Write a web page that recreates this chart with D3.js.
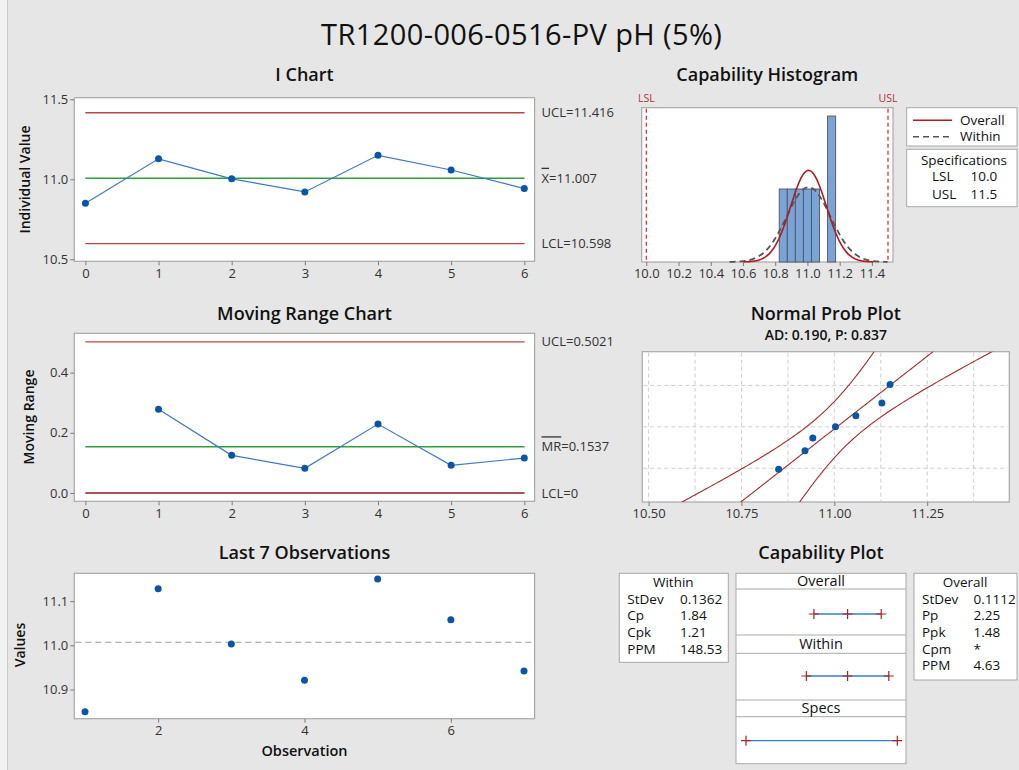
<!DOCTYPE html>
<html>
<head>
<meta charset="utf-8">
<script src="https://cdn.jsdelivr.net/npm/d3@7"></script>
<style>
  body { margin: 0; background: #e6e6e6; }
  svg { display: block; }
  text { font-family: "Open Sans", "Noto Sans", sans-serif; }
</style>
</head>
<body>
<svg id="chart" width="1019" height="770"></svg>
<script>
// ---- Data -------------------------------------------------------------
const observations = [10.850, 11.128, 11.003, 10.921, 11.150, 11.058, 10.942];
const sampleIndex = [0, 1, 2, 3, 4, 5, 6];
const observationNumber = [1, 2, 3, 4, 5, 6, 7];

const iChartLimits = [11.416, 11.007, 10.598];   // UCL, centre, LCL
const mrChartLimits = [0.5021, 0.1537, 0];        // UCL, centre, LCL
const specLimits = [10.0, 11.5];                  // LSL, USL
const processMean = 11.007;
const sdWithin = 0.1362;
const sdOverall = 0.1112;

const withinLabels = ["StDev", "Cp", "Cpk", "PPM"];
const withinValues = ["0.1362", "1.84", "1.21", "148.53"];
const overallLabels = ["StDev", "Pp", "Ppk", "Cpm", "PPM"];
const overallValues = ["0.1112", "2.25", "1.48", "*", "4.63"];
const adText = "AD: 0.190, P: 0.837";

const histBinEdges = [10.825, 10.875, 10.925, 10.975, 11.025, 11.075, 11.125, 11.175];
const iTicksY = [10.5, 11.0, 11.5];
const mrTicksY = [0.0, 0.2, 0.4];
const lastTicksX = [2, 4, 6];
const lastTicksY = [10.9, 11.0, 11.1];
const histTicks = [10.0, 10.2, 10.4, 10.6, 10.8, 11.0, 11.2, 11.4];
const nppTicks = [10.50, 10.75, 11.00, 11.25];
const nppGridX = [10.5, 10.625, 10.75, 10.875, 11.0, 11.125, 11.25, 11.375];
const nppGridP = [0.10, 0.50, 0.90];

// ---- Styles -----------------------------------------------------------
const C = {
  frame: "#a8a8a8", tick: "#7a7a7a", tickText: "#333",
  point: "#0a55a6", line: "#3d78c2", limit: "#b24848", center: "#2e9e3e",
  lcl0: "#8c1c1c", bar: "#7aa4d8", barStroke: "#4f5560", overall: "#b01c1c",
  within: "#555", spec: "#d22", fit: "#a52a2a"
};
const TICK_FS = 13;

const svg = d3.select("#chart");

// Left margin strip
svg.append("rect").attr("x", 0).attr("y", 0).attr("width", 7).attr("height", 770).attr("fill", "#f1f1f1");
svg.append("line").attr("x1", 7.5).attr("x2", 7.5).attr("y1", 0).attr("y2", 770).attr("stroke", "#c9c9c9");

svg.append("text").attr("x", 521.7).attr("y", 45).attr("text-anchor", "middle")
  .attr("font-size", 29).attr("letter-spacing", 0.4).attr("fill", "#111").text("TR1200-006-0516-PV pH (5%)");

function frame(b) {
  svg.append("rect").attr("x", b.x0).attr("y", b.y0)
    .attr("width", b.x1 - b.x0).attr("height", b.y1 - b.y0)
    .attr("fill", "#fff").attr("stroke", C.frame).attr("stroke-width", 1.2);
}
function title(txt, x, y, size = 18) {
  svg.append("text").attr("x", x).attr("y", y).attr("text-anchor", "middle")
    .attr("font-size", size).attr("font-weight", 600).attr("fill", "#111").text(txt);
}
function styleAxis(g) {
  g.select(".domain").remove();
  g.selectAll(".tick line").attr("stroke", C.tick);
  g.selectAll(".tick text").attr("fill", C.tickText).attr("font-size", TICK_FS)
    .attr("font-family", '"Open Sans", sans-serif');
}
function yTitle(txt, x, y) {
  svg.append("text").attr("transform", `translate(${x},${y}) rotate(-90)`)
    .attr("text-anchor", "middle").attr("font-size", 14).attr("font-weight", 600)
    .attr("fill", "#111").text(txt);
}
function hline(b, y, v, color, dash) {
  svg.append("line").attr("x1", b.x0 + 11).attr("x2", b.x1 - 10)
    .attr("y1", y(v)).attr("y2", y(v)).attr("stroke", color).attr("stroke-width", 1.4)
    .attr("stroke-dasharray", dash || null);
}
function limitLabel(x, y, parts) {
  const t = svg.append("text").attr("x", x).attr("y", y).attr("dy", "0.35em")
    .attr("font-size", 13).attr("fill", "#333");
  parts.forEach(p => {
    t.append("tspan").attr("text-decoration", p.over ? "overline" : null).text(p.t);
  });
}

// ---- I chart ----------------------------------------------------------
const bI = { x0: 74.3, x1: 534.6, y0: 97.7, y1: 261.3 };
const xI = d3.scaleLinear().domain([0, 6]).range([85.4, 524.3]);
const yI = d3.scaleLinear().domain([10.4875, 11.51]).range([bI.y1, bI.y0]);
title("I Chart", 304.5, 81);
frame(bI);
svg.append("g").attr("transform", `translate(${bI.x0},0)`)
  .call(d3.axisLeft(yI).tickValues(iTicksY).tickSize(4).tickPadding(2).tickFormat(d3.format(".1f"))).call(styleAxis);
svg.append("g").attr("transform", `translate(0,${bI.y1})`)
  .call(d3.axisBottom(xI).tickValues(sampleIndex).tickSize(4).tickPadding(3).tickFormat(d3.format("d"))).call(styleAxis);
yTitle("Individual Value", 30, 179.5);
hline(bI, yI, iChartLimits[0], C.limit);
hline(bI, yI, iChartLimits[2], C.limit);
hline(bI, yI, iChartLimits[1], C.center);
limitLabel(541.5, yI(iChartLimits[0]), [{ t: "UCL=11.416" }]);
limitLabel(541.5, yI(iChartLimits[1]), [{ t: "X", over: true }, { t: "=11.007" }]);
limitLabel(541.5, yI(iChartLimits[2]), [{ t: "LCL=10.598" }]);
svg.append("path").datum(observations)
  .attr("d", d3.line().x((d, i) => xI(sampleIndex[i])).y(d => yI(d)))
  .attr("fill", "none").attr("stroke", C.line).attr("stroke-width", 1.2);
svg.append("g").selectAll("circle").data(observations).join("circle")
  .attr("cx", (d, i) => xI(sampleIndex[i])).attr("cy", d => yI(d)).attr("r", 3.5).attr("fill", C.point);

// ---- Moving range chart -----------------------------------------------
const movingRanges = observations.slice(1).map((v, i) => Math.abs(v - observations[i]));
const bM = { x0: 74.3, x1: 534.6, y0: 333.3, y1: 501.3 };
const xM = xI.copy();
const yM = d3.scaleLinear().domain([-0.0276, 0.5306]).range([bM.y1, bM.y0]);
title("Moving Range Chart", 304.5, 320);
frame(bM);
svg.append("g").attr("transform", `translate(${bM.x0},0)`)
  .call(d3.axisLeft(yM).tickValues(mrTicksY).tickSize(4).tickPadding(2).tickFormat(d3.format(".1f"))).call(styleAxis);
svg.append("g").attr("transform", `translate(0,${bM.y1})`)
  .call(d3.axisBottom(xM).tickValues(sampleIndex).tickSize(4).tickPadding(3).tickFormat(d3.format("d"))).call(styleAxis);
yTitle("Moving Range", 34, 417);
hline(bM, yM, mrChartLimits[0], C.limit);
hline(bM, yM, mrChartLimits[2], C.lcl0);
hline(bM, yM, mrChartLimits[1], C.center);
limitLabel(541.5, yM(mrChartLimits[0]), [{ t: "UCL=0.5021" }]);
limitLabel(541.5, yM(mrChartLimits[1]), [{ t: "MR", over: true }, { t: "=0.1537" }]);
limitLabel(541.5, yM(mrChartLimits[2]), [{ t: "LCL=0" }]);
svg.append("path").datum(movingRanges)
  .attr("d", d3.line().x((d, i) => xM(sampleIndex[i + 1])).y(d => yM(d)))
  .attr("fill", "none").attr("stroke", C.line).attr("stroke-width", 1.2);
svg.append("g").selectAll("circle").data(movingRanges).join("circle")
  .attr("cx", (d, i) => xM(sampleIndex[i + 1])).attr("cy", d => yM(d)).attr("r", 3.5).attr("fill", C.point);

// ---- Last 7 observations ------------------------------------------------
const bL = { x0: 74.3, x1: 534.6, y0: 573.3, y1: 718.7 };
const xL = d3.scaleLinear().domain([1, 7]).range([85.0, 524.0]);
const yL = d3.scaleLinear().domain([10.834, 11.163]).range([bL.y1, bL.y0]);
title("Last 7 Observations", 304.5, 559);
frame(bL);
svg.append("g").attr("transform", `translate(${bL.x0},0)`)
  .call(d3.axisLeft(yL).tickValues(lastTicksY).tickSize(4).tickPadding(2).tickFormat(d3.format(".1f"))).call(styleAxis);
svg.append("g").attr("transform", `translate(0,${bL.y1})`)
  .call(d3.axisBottom(xL).tickValues(lastTicksX).tickSize(4).tickPadding(3).tickFormat(d3.format("d"))).call(styleAxis);
yTitle("Values", 25, 645);
svg.append("text").attr("x", 304.5).attr("y", 756).attr("text-anchor", "middle")
  .attr("font-size", 14.5).attr("font-weight", 600).attr("fill", "#111").text("Observation");
svg.append("line").attr("x1", bL.x0 + 1).attr("x2", bL.x1 - 1)
  .attr("y1", yL(processMean)).attr("y2", yL(processMean))
  .attr("stroke", "#9a9a9a").attr("stroke-width", 1.1).attr("stroke-dasharray", "6,4");
svg.append("g").selectAll("circle").data(observations).join("circle")
  .attr("cx", (d, i) => xL(observationNumber[i])).attr("cy", d => yL(d)).attr("r", 3.5).attr("fill", C.point);

// ---- Capability histogram ---------------------------------------------
const bH = { x0: 641.7, x1: 893, y0: 107.7, y1: 262 };
const xH = d3.scaleLinear().domain([10.0, 11.5]).range([646.3, 888]);
const yH = d3.scaleLinear().domain([0, 6.04]).range([bH.y1, bH.y0]);
title("Capability Histogram", 767.3, 81);
frame(bH);
svg.append("g").attr("transform", `translate(0,${bH.y1})`)
  .call(d3.axisBottom(xH).tickValues(histTicks).tickSize(4).tickPadding(3).tickFormat(d3.format(".1f"))).call(styleAxis);

const n = observations.length;
const bins = histBinEdges.slice(0, -1).map((lo, i) => {
  const hi = histBinEdges[i + 1];
  return { lo, hi, count: observations.filter(v => v >= lo && v < hi).length };
}).filter(b => b.count > 0);
svg.append("g").selectAll("rect").data(bins).join("rect")
  .attr("x", d => xH(d.lo)).attr("width", d => xH(d.hi) - xH(d.lo))
  .attr("y", d => yH(d.count / (n * (d.hi - d.lo))))
  .attr("height", d => yH(0) - yH(d.count / (n * (d.hi - d.lo))))
  .attr("fill", C.bar).attr("stroke", C.barStroke).attr("stroke-width", 0.9);

const normPdf = (x, m, s) => Math.exp(-0.5 * ((x - m) / s) ** 2) / (s * Math.sqrt(2 * Math.PI));
function curve(sd, span) {
  return d3.range(-span, span + 1e-9, 0.05).map(z => [processMean + z * sd, normPdf(processMean + z * sd, processMean, sd)]);
}
const hLine = d3.line().x(d => xH(d[0])).y(d => yH(d[1])).curve(d3.curveBasis);
svg.append("path").datum(curve(sdWithin, 3.6)).attr("d", hLine)
  .attr("fill", "none").attr("stroke", C.within).attr("stroke-width", 1.8).attr("stroke-dasharray", "6,4");
svg.append("path").datum(curve(sdOverall, 3.6)).attr("d", hLine)
  .attr("fill", "none").attr("stroke", C.overall).attr("stroke-width", 1.6);

specLimits.forEach((s, i) => {
  svg.append("line").attr("x1", xH(s)).attr("x2", xH(s)).attr("y1", bH.y0 + 1).attr("y2", bH.y1)
    .attr("stroke", C.spec).attr("stroke-width", 1.2).attr("stroke-dasharray", "4,3");
  svg.append("text").attr("x", xH(s)).attr("y", 102).attr("text-anchor", "middle")
    .attr("font-size", 10.5).attr("fill", "#a33").text(i === 0 ? "LSL" : "USL");
});

// legend and specification boxes
const legendBox = { x0: 906.7, x1: 1017, y0: 107.7, y1: 146 };
svg.append("rect").attr("x", legendBox.x0).attr("y", legendBox.y0)
  .attr("width", legendBox.x1 - legendBox.x0).attr("height", legendBox.y1 - legendBox.y0)
  .attr("fill", "#fff").attr("stroke", C.frame);
[["Overall", C.overall, null], ["Within", C.within, "6,4"]].forEach((d, i) => {
  const y = 120.3 + i * 16.4;
  svg.append("line").attr("x1", 913).attr("x2", 952).attr("y1", y).attr("y2", y)
    .attr("stroke", d[1]).attr("stroke-width", 1.6).attr("stroke-dasharray", d[2]);
  svg.append("text").attr("x", 960).attr("y", y).attr("dy", "0.35em").attr("font-size", 13.5)
    .attr("fill", "#111").text(d[0]);
});
const specBox = { x0: 906.7, x1: 1017, y0: 149.3, y1: 206.7 };
svg.append("rect").attr("x", specBox.x0).attr("y", specBox.y0)
  .attr("width", specBox.x1 - specBox.x0).attr("height", specBox.y1 - specBox.y0)
  .attr("fill", "#fff").attr("stroke", C.frame);
svg.append("text").attr("x", 964).attr("y", 160).attr("dy", "0.35em").attr("text-anchor", "middle")
  .attr("font-size", 13.5).attr("fill", "#111").text("Specifications");
["LSL", "USL"].forEach((lab, i) => {
  const y = 176.7 + i * 17.3;
  svg.append("text").attr("x", 932).attr("y", y).attr("dy", "0.35em").attr("font-size", 13.5)
    .attr("fill", "#111").text(lab);
  svg.append("text").attr("x", 970.5).attr("y", y).attr("dy", "0.35em").attr("font-size", 13.5)
    .attr("fill", "#111").text(d3.format(".1f")(specLimits[i]));
});

// ---- Normal probability plot ------------------------------------------
function qnorm(p) {
  const a = [-3.969683028665376e+01, 2.209460984245205e+02, -2.759285104469687e+02, 1.383577518672690e+02, -3.066479806614716e+01, 2.506628277459239e+00];
  const b = [-5.447609879822406e+01, 1.615858368580409e+02, -1.556989798598866e+02, 6.680131188771972e+01, -1.328068155288572e+01];
  const c = [-7.784894002430293e-03, -3.223964580411365e-01, -2.400758277161838e+00, -2.549732539343734e+00, 4.374664141464968e+00, 2.938163982698783e+00];
  const d = [7.784695709041462e-03, 3.224671290700398e-01, 2.445134137142996e+00, 3.754408661907416e+00];
  const pl = 0.02425;
  let q, r;
  if (p < pl) {
    q = Math.sqrt(-2 * Math.log(p));
    return (((((c[0] * q + c[1]) * q + c[2]) * q + c[3]) * q + c[4]) * q + c[5]) / ((((d[0] * q + d[1]) * q + d[2]) * q + d[3]) * q + 1);
  }
  if (p <= 1 - pl) {
    q = p - 0.5; r = q * q;
    return (((((a[0] * r + a[1]) * r + a[2]) * r + a[3]) * r + a[4]) * r + a[5]) * q / (((((b[0] * r + b[1]) * r + b[2]) * r + b[3]) * r + b[4]) * r + 1);
  }
  q = Math.sqrt(-2 * Math.log(1 - p));
  return -(((((c[0] * q + c[1]) * q + c[2]) * q + c[3]) * q + c[4]) * q + c[5]) / ((((d[0] * q + d[1]) * q + d[2]) * q + d[3]) * q + 1);
}
const bN = { x0: 642.3, x1: 1009.3, y0: 351.7, y1: 502 };
const xN = d3.scaleLinear().domain([10.483, 11.471]).range([bN.x0, bN.x1]);
const yN = d3.scaleLinear().domain([qnorm(0.01), qnorm(0.99)]).range([bN.y1, bN.y0]);
title("Normal Prob Plot", 825.8, 320);
svg.append("text").attr("x", 825.8).attr("y", 339.5).attr("text-anchor", "middle")
  .attr("font-size", 14).attr("font-weight", 600).attr("fill", "#111").text(adText);
frame(bN);
svg.append("defs").append("clipPath").attr("id", "nppClip").append("rect")
  .attr("x", bN.x0).attr("y", bN.y0).attr("width", bN.x1 - bN.x0).attr("height", bN.y1 - bN.y0);
const grid = svg.append("g").attr("stroke", "#cfcfcf").attr("stroke-dasharray", "4,3").attr("stroke-width", 1);
nppGridX.forEach(v => grid.append("line").attr("x1", xN(v)).attr("x2", xN(v)).attr("y1", bN.y0 + 1).attr("y2", bN.y1 - 1));
nppGridP.forEach(p => grid.append("line").attr("x1", bN.x0 + 1).attr("x2", bN.x1 - 1).attr("y1", yN(qnorm(p))).attr("y2", yN(qnorm(p))));
svg.append("g").attr("transform", `translate(0,${bN.y1})`)
  .call(d3.axisBottom(xN).tickValues(nppTicks).tickSize(4).tickPadding(3).tickFormat(d3.format(".2f"))).call(styleAxis);

const zs = d3.range(-3, 3.001, 0.05);
const fitLine = d3.line().x(d => xN(d[0])).y(d => yN(d[1]));
const fitG = svg.append("g").attr("clip-path", "url(#nppClip)").attr("fill", "none")
  .attr("stroke", C.fit).attr("stroke-width", 1.1);
fitG.append("path").datum(zs.map(z => [processMean + z * sdOverall, z])).attr("d", fitLine);
[-1, 1].forEach(sgn => {
  fitG.append("path").datum(zs.map(z => [processMean + z * sdOverall + sgn * 1.96 * sdOverall * Math.sqrt((1 + z * z / 2) / n), z]))
    .attr("d", fitLine);
});
const sorted = observations.slice().sort(d3.ascending);
svg.append("g").selectAll("circle").data(sorted).join("circle")
  .attr("cx", d => xN(d)).attr("cy", (d, i) => yN(qnorm((i + 1 - 0.3) / (n + 0.4))))
  .attr("r", 3.5).attr("fill", C.point);

// ---- Capability plot --------------------------------------------------
title("Capability Plot", 821, 559);
function statBox(x0, x1, y0, y1, head, labels, values, valueX) {
  svg.append("rect").attr("x", x0).attr("y", y0).attr("width", x1 - x0).attr("height", y1 - y0)
    .attr("fill", "#fff").attr("stroke", C.frame);
  svg.append("text").attr("x", (x0 + x1) / 2 - 0.5).attr("y", 582.7).attr("dy", "0.35em")
    .attr("text-anchor", "middle").attr("font-size", 13.5).attr("fill", "#111").text(head);
  labels.forEach((lab, i) => {
    const y = 599 + i * 16.6;
    svg.append("text").attr("x", x0 + 8).attr("y", y).attr("dy", "0.35em").attr("font-size", 13.5)
      .attr("fill", "#111").text(lab);
    svg.append("text").attr("x", valueX).attr("y", y).attr("dy", "0.35em").attr("font-size", 13.5)
      .attr("fill", "#111").text(values[i]);
  });
}
statBox(619.3, 728.3, 573.3, 662.3, "Within", withinLabels, withinValues, 680);
statBox(914, 1017, 573.3, 680, "Overall", overallLabels, overallValues, 973.5);

const bC = { x0: 736, x1: 906, y0: 573.3, y1: 763.7 };
const xC = d3.scaleLinear().domain(specLimits).range([746, 897.3]);
svg.append("rect").attr("x", bC.x0).attr("y", bC.y0).attr("width", bC.x1 - bC.x0).attr("height", bC.y1 - bC.y0)
  .attr("fill", "#fff").attr("stroke", C.frame);
const sections = [
  { name: "Overall", h0: 573.3, h1: 589, rowY: 614, pts: [processMean - 3 * sdOverall, processMean, processMean + 3 * sdOverall] },
  { name: "Within", h0: 635, h1: 653.3, rowY: 676, pts: [processMean - 3 * sdWithin, processMean, processMean + 3 * sdWithin] },
  { name: "Specs", h0: 700, h1: 716.7, rowY: 740.7, pts: specLimits }
];
sections.forEach(s => {
  if (s.h0 > bC.y0) {
    svg.append("line").attr("x1", bC.x0).attr("x2", bC.x1).attr("y1", s.h0).attr("y2", s.h0).attr("stroke", C.frame);
  }
  svg.append("line").attr("x1", bC.x0).attr("x2", bC.x1).attr("y1", s.h1).attr("y2", s.h1).attr("stroke", C.frame);
  svg.append("text").attr("x", 821).attr("y", (s.h0 + s.h1) / 2).attr("dy", "0.35em")
    .attr("text-anchor", "middle").attr("font-size", 14.5).attr("font-weight", 500).attr("fill", "#111").text(s.name);
  const ext = d3.extent(s.pts);
  svg.append("line").attr("x1", xC(ext[0])).attr("x2", xC(ext[1])).attr("y1", s.rowY).attr("y2", s.rowY)
    .attr("stroke", "#3a7cc6").attr("stroke-width", 1.3);
  s.pts.forEach(p => {
    svg.append("path").attr("d", `M${xC(p) - 5},${s.rowY}H${xC(p) + 5}M${xC(p)},${s.rowY - 5}V${s.rowY + 5}`)
      .attr("stroke", "#b02020").attr("stroke-width", 1.2).attr("fill", "none");
  });
});
</script>
</body>
</html>
